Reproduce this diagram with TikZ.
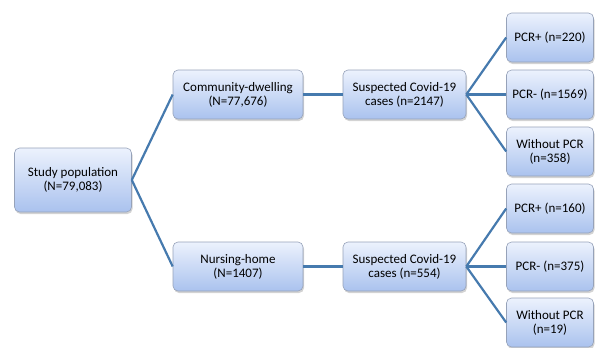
\documentclass[tikz,border=0pt]{standalone}
\usepackage{fontspec}
\setmainfont{Carlito}
\usetikzlibrary{shadows}
\definecolor{boxtop}{RGB}{236,242,253}
\definecolor{boxbot}{RGB}{170,194,238}
\definecolor{boxline}{RGB}{150,162,185}
\definecolor{link}{RGB}{70,122,174}
\tikzset{
  box/.style={draw=boxline, line width=0.6pt, rounded corners=5pt,
    top color=boxtop, bottom color=boxbot, align=center,
    inner sep=2pt, minimum height=49pt,
    font=\fontsize{13}{14}\selectfont,
    drop shadow={opacity=0.35, shadow xshift=1pt, shadow yshift=-2pt}},
  link/.style={draw=link, line width=2.2pt}
}
\begin{document}
\begin{tikzpicture}[x=1pt,y=-1pt]
\useasboundingbox (0,0) rectangle (595,348);
\node[box, minimum width=117pt, minimum height=64pt] (study) at (73,180) {Study population\\(N=79,083)};
\node[box, minimum width=130pt] (comm) at (238,94.5) {Community-dwelling\\(N=77,676)};
\node[box, minimum width=123pt] (s1) at (404.5,94.5) {Suspected Covid-19\\cases (n=2147)};
\node[box, minimum width=130pt] (nurs) at (238,266.5) {Nursing-home\\(N=1407)};
\node[box, minimum width=123pt] (s2) at (404.5,266.5) {Suspected Covid-19\\cases (n=554)};
\node[box, minimum width=87pt] (r1) at (550,37.5) {PCR+ (n=220)};
\node[box, minimum width=87pt] (r2) at (550,94.5) {PCR- (n=1569)};
\node[box, minimum width=87pt] (r3) at (550,151.5) {Without PCR\\(n=358)};
\node[box, minimum width=87pt] (r4) at (550,208.5) {PCR+ (n=160)};
\node[box, minimum width=87pt] (r5) at (550,266.5) {PCR- (n=375)};
\node[box, minimum width=87pt] (r6) at (550,322.5) {Without PCR\\(n=19)};
\draw[link] (study.east) -- (comm.west);
\draw[link] (study.east) -- (nurs.west);
\draw[link] (comm.east) -- (s1.west);
\draw[link] (nurs.east) -- (s2.west);
\draw[link] (s1.east) -- (r1.west);
\draw[link] (s1.east) -- (r2.west);
\draw[link] (s1.east) -- (r3.west);
\draw[link] (s2.east) -- (r4.west);
\draw[link] (s2.east) -- (r5.west);
\draw[link] (s2.east) -- (r6.west);
\end{tikzpicture}
\end{document}
